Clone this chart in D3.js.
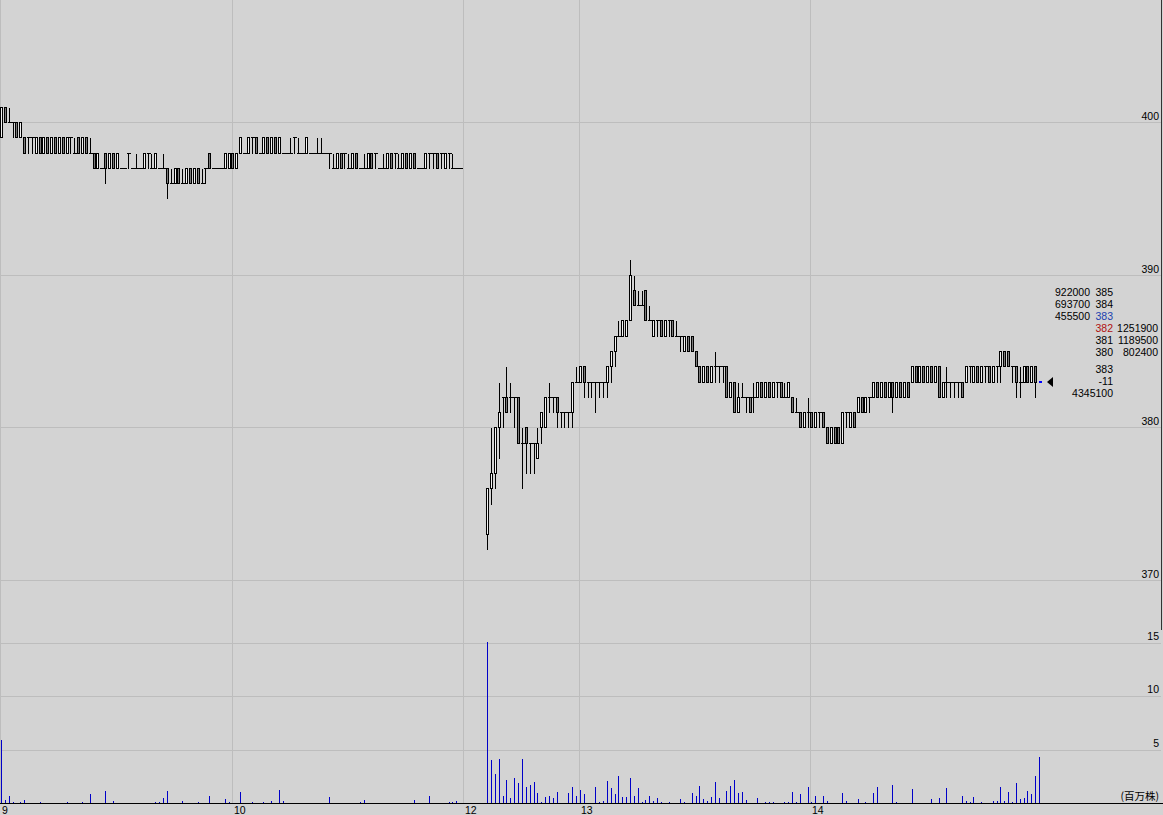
<!DOCTYPE html>
<html><head><meta charset="utf-8">
<script src="https://cdn.jsdelivr.net/npm/d3@7"></script>
<style>html,body{margin:0;padding:0;background:#d3d3d3;}svg{display:block;}</style>
</head><body>
<svg id="chart" width="1163" height="815"></svg>
<script>
// ---------------- DATA ----------------
const timeLabels = ["9", "10", "12", "13", "14"];
const timeLabelSlots = [0, 60, 120, 150, 210];
const priceTicks = [370, 380, 390, 400];
const volumeTicks = [5, 10, 15];
const volumeUnit = "(百万株)";

// 1-minute candles [open, high, low, close]; morning 9:00-11:00 (120 min)
const morningCandles = [
 [399,401,399,401],[401,401,400,400],[400,401,400,400],[400,400,399,400],[400,400,399,399],
 [399,400,399,400],[399,399,398,398],[399,399,398,399],[399,399,398,399],[398,399,398,399],
 [399,399,398,398],[398,399,398,399],[399,399,398,398],[398,399,398,399],[399,399,398,398],
 [398,399,398,399],[399,399,398,398],[398,399,398,399],[399,399,398,399],[398,399,398,398],
 [399,399,398,398],[398,399,398,399],[399,399,398,398],[398,399,398,398],[398,398,397,397],
 [397,398,397,398],[397,397,397,397],[398,398,396,397],[397,398,397,398],[398,398,397,397],
 [397,398,397,398],[397,397,397,397],[397,397,397,397],[398,398,397,398],[397,397,397,397],
 [397,398,397,397],[397,397,397,397],[397,398,397,398],[398,398,397,398],[397,398,397,397],
 [397,398,397,398],[397,397,397,397],[397,398,397,397],[397,397,395,396],[396,397,396,396],
 [396,397,396,397],[397,397,396,396],[396,397,396,396],[396,397,396,397],[397,397,396,396],
 [396,397,396,397],[397,397,396,396],[396,397,396,396],[397,397,396,397],[398,398,397,397],
 [397,397,397,397],[397,397,397,397],[397,397,397,397],[397,398,397,398],[397,398,397,398],
 [398,398,397,397],[397,398,397,398],[398,399,398,399],[398,398,398,398],[398,399,398,399],
 [399,399,398,399],[399,399,398,398],[398,398,398,398],[398,399,398,399],[399,399,398,398],
 [398,399,398,399],[399,399,398,398],[398,399,398,399],[398,398,398,398],[398,398,398,398],
 [398,399,398,398],[399,399,398,399],[398,399,398,398],[398,398,398,398],[398,399,398,399],
 [398,398,398,398],[398,398,398,398],[398,399,398,398],[398,399,398,398],[398,398,398,398],
 [398,398,397,398],[397,398,397,397],[397,398,397,398],[398,398,397,397],[398,398,397,398],
 [397,398,397,397],[397,398,397,398],[398,398,397,397],[397,397,397,397],[397,398,397,397],
 [397,398,397,398],[398,398,397,397],[398,398,397,398],[397,397,397,397],[397,398,397,397],
 [397,398,397,398],[398,398,397,397],[398,398,397,398],[397,398,397,397],[397,398,397,398],
 [398,398,397,397],[397,398,397,398],[398,398,397,397],[397,397,397,397],[397,397,397,397],
 [397,398,397,398],[398,398,397,398],[398,398,397,398],[398,398,397,397],[398,398,397,398],
 [397,398,397,398],[398,398,397,398],[397,398,397,397],[397,397,397,397],[397,397,397,397]
];
// afternoon 12:30-15:00 (150 min); null = no candle
const afternoonCandles = [
 null,null,null,null,null,
 null,[373,376,372,376],[376,380,375,377],[377,380,376,380],[380,383,378,381],
 [382,382,380,382],[382,384,381,381],[382,383,381,382],[382,382,380,382],[382,382,379,379],
 [379,380,376,379],[380,380,377,379],[379,379,377,379],[379,379,377,379],[378,380,378,379],
 [380,381,379,381],[380,382,380,382],[382,383,381,382],[382,382,381,382],[382,382,380,381],
 [381,381,380,381],[381,381,380,381],[381,381,380,381],[381,383,380,383],[383,384,383,383],
 [383,384,383,384],[384,384,382,383],[383,383,382,383],[383,383,382,383],[383,383,381,383],
 [383,383,382,383],[383,383,382,383],[383,384,382,384],[384,385,383,385],[385,386,384,386],
 [386,387,386,386],[386,387,386,387],[386,387,386,387],[387,391,387,390],[389,390,388,388],
 [388,389,388,388],[388,389,388,388],[389,389,387,387],[387,388,387,387],[386,387,386,387],
 [387,387,386,387],[387,387,386,386],[386,387,386,387],[387,387,386,387],[387,387,386,386],
 [386,387,386,386],[386,386,385,386],[385,386,385,386],[386,386,385,385],[386,386,385,385],
 [385,385,384,384],[384,384,383,383],[383,384,383,384],[384,384,383,383],[383,384,383,384],
 [384,385,383,384],[384,384,383,384],[384,384,383,384],[384,384,382,382],[382,383,382,383],
 [383,383,381,381],[381,383,381,382],[382,383,382,382],[382,382,381,382],[382,382,381,381],
 [382,383,381,382],[382,383,382,383],[383,383,382,382],[382,383,382,383],[383,383,382,382],
 [382,383,382,383],[383,383,382,383],[383,383,382,382],[382,383,382,382],[382,383,382,383],
 [382,382,381,381],[381,382,381,381],[381,381,380,380],[380,381,380,381],[381,382,380,381],
 [381,381,380,380],[380,381,380,381],[381,381,380,381],[381,381,380,380],[380,380,379,379],
 [379,380,379,380],[380,380,379,379],[380,380,379,379],[379,381,379,381],[381,381,380,381],
 [380,381,380,381],[381,381,380,380],[381,382,381,382],[382,382,381,381],[381,382,381,382],
 [382,382,381,382],[382,383,382,383],[383,383,382,382],[382,383,382,383],[383,383,382,382],
 [382,383,382,383],[383,383,381,382],[382,383,382,383],[383,383,382,382],[382,383,382,383],
 [383,383,382,382],[383,384,383,384],[384,384,383,383],[383,384,383,384],[384,384,383,383],
 [383,384,383,384],[384,384,383,383],[383,384,383,384],[384,384,382,382],[382,383,382,383],
 [383,384,382,383],[383,383,382,383],[383,383,382,383],[383,383,382,383],[383,383,382,382],
 [383,384,383,384],[384,384,383,384],[383,384,383,384],[384,384,383,383],[383,384,383,384],
 [384,384,383,384],[384,384,383,383],[383,384,383,384],[384,384,383,384],[384,385,383,385],
 [385,385,384,384],[385,385,384,384],[384,384,383,384],[384,384,382,383],[383,384,382,383],
 [383,384,383,384],[384,384,383,383],[383,384,383,384],[384,384,382,383],null
];
// volume per minute (millions of shares)
const morningVolume = [
 5.9,0.3,0.7,0.1,0,0.1,0.3,0,0,0,
 0.1,0,0,0,0,0,0,0.1,0,0,
 0,0.1,0,0.8,0,0,0,1.15,0,0.2,
 0,0,0,0,0,0,0,0,0,0,
 0.1,0.1,0.5,1.15,0,0,0,0.2,0,0,
 0,0.1,0,0,0.7,0,0,0,0.4,0.1,
 0,0,1.05,0,0,0.1,0,0,0.1,0,
 0.2,0,1.25,0.2,0,0,0,0,0,0,
 0,0,0,0,0,0.6,0,0,0,0,
 0,0,0,0.1,0.3,0,0,0,0,0,
 0,0,0,0,0,0,0,0.3,0,0,
 0,0.7,0,0,0,0,0.1,0.1,0.2,0
];
const afternoonVolume = [
 0,0,0,0,0,0,15.1,4.06,2.75,4.16,
 0.7,2.2,0.5,2.3,1.9,4.16,1.5,1.7,2.0,0.97,
 0.1,0.6,0.7,0.5,1.06,0,0,0.97,1.5,0.7,
 1.25,0.8,0,0,1.5,0.1,0.2,2.1,1.4,0.8,
 2.56,0.6,0.6,2.3,0.7,1.4,0.1,0.3,0.7,0.2,
 0.5,0.1,0,0.1,0,0,0.4,0.1,0,0.9,
 0.7,1.6,0.4,0.2,0.6,2.0,0.5,0,1.15,1.6,
 2.2,0.9,1.06,0.3,0,0,0.5,0,0.1,0.1,
 0.1,0,0,0.1,0.1,1.06,0.1,0.8,0,1.5,
 0.1,0.7,0,0.7,0.2,0,0,0,0.97,0.2,
 0,0,0.4,0,0.1,0,0.97,1.5,0,0,
 0,1.7,0.1,0,0,0,1.3,0,0,0,
 0,0.4,0,0.5,0,1.4,0,0,0,0.7,
 0.2,0.1,0.6,0,0.1,0,0,0.2,0.2,1.5,
 0.2,1.06,0.1,1.9,0.4,0.5,1.15,0.8,2.56,4.3
];
const closingPrice = 383;
const askVolumes = ["922000", "693700", "455500"];
const askPrices = ["385", "384", "383"];
const bidPrices = ["382", "381", "380"];
const bidVolumes = ["1251900", "1189500", "802400"];
const lastPrice = "383";
const priceChange = "-11";
const totalVolume = "4345100";

// ---------------- CHART ----------------
const W = 1163, H = 815;
const svg = d3.select("#chart");
const candles = morningCandles.concat(afternoonCandles);
const volumes = morningVolume.concat(afternoonVolume);
const nSlots = candles.length;

const x = d3.scaleBand().domain(d3.range(nSlots)).range([0, 1042]).paddingInner(0).paddingOuter(0);
const cx = i => Math.round(x(i) + x.bandwidth() / 2) - 0.5;
const y = d3.scaleLinear().domain([370, 400]).range([580, 122]);
const yv = d3.scaleLinear().domain([0, 15]).range([803, 643]);
const py = p => Math.round(y(p)) + 0.5;

svg.append("rect").attr("width", W).attr("height", H).attr("fill", "#d3d3d3");

const grid = svg.append("g").attr("stroke", "#bdbdbd").attr("stroke-width", 1).attr("shape-rendering", "crispEdges");
grid.selectAll("line.hp").data(priceTicks).join("line")
  .attr("x1", 0).attr("x2", 1161).attr("y1", d => py(d)).attr("y2", d => py(d));
grid.selectAll("line.hv").data(volumeTicks).join("line").attr("class", "hv")
  .attr("x1", 0).attr("x2", 1161).attr("y1", d => Math.round(yv(d)) + 0.5).attr("y2", d => Math.round(yv(d)) + 0.5);
grid.selectAll("line.vt").data(timeLabelSlots).join("line").attr("class", "vt")
  .attr("x1", d => Math.round(x(d)) + 0.5).attr("x2", d => Math.round(x(d)) + 0.5)
  .attr("y1", 0).attr("y2", 803);

// price axis labels
const lab = svg.append("g").attr("font-family", "'Liberation Sans', Arial, sans-serif").attr("font-size", "10.5px").attr("fill", "#000");
lab.selectAll("text.p").data(priceTicks).join("text").attr("class", "p")
  .attr("x", 1159).attr("y", d => Math.round(y(d)) - 2).attr("text-anchor", "end").text(d => d);
lab.selectAll("text.v").data(volumeTicks).join("text").attr("class", "v")
  .attr("x", 1159).attr("y", d => Math.round(yv(d)) - 3).attr("text-anchor", "end").text(d => d);
lab.selectAll("text.t").data(timeLabelSlots).join("text").attr("class", "t")
  .attr("x", (d, i) => Math.round(x(d)) + 2).attr("y", 814).text((d, i) => timeLabels[i]);
lab.append("text").attr("x", 1159).attr("y", 800).attr("text-anchor", "end")
  .attr("font-family", "'Noto Sans CJK JP', sans-serif").attr("font-size", "10.5px").text(volumeUnit);

// volume bars
svg.append("g").attr("stroke", "#0000c8").attr("stroke-width", 1).attr("shape-rendering", "crispEdges")
  .selectAll("line").data(volumes.map((v, i) => ({v, i})).filter(d => d.v > 0)).join("line")
  .attr("x1", d => cx(d.i)).attr("x2", d => cx(d.i))
  .attr("y1", 803).attr("y2", d => Math.round(yv(d.v)));

// baseline
svg.append("line").attr("x1", 0).attr("x2", W).attr("y1", 803.5).attr("y2", 803.5)
  .attr("stroke", "#000").attr("stroke-width", 1);

// candles
const cdata = candles.map((c, i) => c ? {i, o: c[0], h: c[1], l: c[2], c: c[3]} : null).filter(d => d);
const cg = svg.append("g").attr("shape-rendering", "crispEdges");
cg.selectAll("line.w").data(cdata.filter(d => d.h !== d.l)).join("line").attr("class", "w")
  .attr("x1", d => cx(d.i)).attr("x2", d => cx(d.i))
  .attr("y1", d => py(d.h)).attr("y2", d => py(d.l)).attr("stroke", "#000");
cg.selectAll("line.d").data(cdata.filter(d => d.o === d.c)).join("line").attr("class", "d")
  .attr("x1", d => cx(d.i) - 1.5).attr("x2", d => cx(d.i) + 2.5)
  .attr("y1", d => py(d.c)).attr("y2", d => py(d.c)).attr("stroke", "#000");
cg.selectAll("rect.b").data(cdata.filter(d => d.o !== d.c)).join("rect").attr("class", "b")
  .attr("x", d => cx(d.i) - 1).attr("width", 2)
  .attr("y", d => py(Math.max(d.o, d.c))).attr("height", d => py(Math.min(d.o, d.c)) - py(Math.max(d.o, d.c)))
  .attr("fill", d => d.c > d.o ? "#f2f2f2" : "#7a7a7a").attr("stroke", "#000");

// closing marker
svg.append("rect").attr("x", cx(nSlots - 1) - 0.5).attr("y", Math.round(y(closingPrice)) - 1)
  .attr("width", 3).attr("height", 2).attr("fill", "#0000ff");
const ty = Math.round(y(closingPrice));
svg.append("path").attr("d", `M1047,${ty} L1053,${ty - 5} L1053,${ty + 5} Z`).attr("fill", "#000");

// board info
const info = svg.append("g").attr("font-family", "'Liberation Sans', Arial, sans-serif").attr("font-size", "10.5px").attr("text-anchor", "end");
const rowY = [296, 308, 320, 332, 344, 356];
askVolumes.forEach((v, i) => {
  info.append("text").attr("x", 1090).attr("y", rowY[i]).attr("fill", "#000").text(v);
  info.append("text").attr("x", 1113).attr("y", rowY[i]).attr("fill", i === 2 ? "#1a3fb0" : "#000").text(askPrices[i]);
});
bidPrices.forEach((p, i) => {
  info.append("text").attr("x", 1113).attr("y", rowY[i + 3]).attr("fill", i === 0 ? "#b01010" : "#000").text(p);
  info.append("text").attr("x", 1158).attr("y", rowY[i + 3]).attr("fill", "#000").text(bidVolumes[i]);
});
info.append("text").attr("x", 1113).attr("y", 373).text(lastPrice);
info.append("text").attr("x", 1113).attr("y", 385).text(priceChange);
info.append("text").attr("x", 1113).attr("y", 397).text(totalVolume);

// right border
svg.append("line").attr("x1", 1161.5).attr("x2", 1161.5).attr("y1", 0).attr("y2", 630).attr("stroke", "#333");
</script>
</body></html>
